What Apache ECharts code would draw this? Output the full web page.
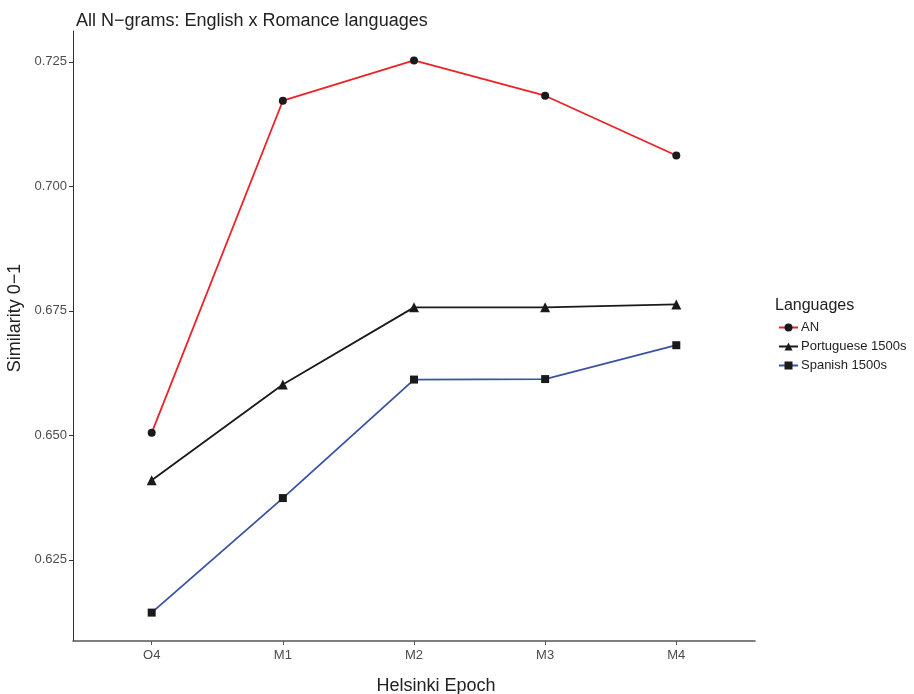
<!DOCTYPE html>
<html><head><meta charset="utf-8">
<script src="https://cdn.jsdelivr.net/npm/echarts@6/dist/echarts.min.js"></script>
<style>html,body{margin:0;padding:0;background:#fff;overflow:hidden}#c{width:914px;height:694px}</style>
</head><body><div id="c"></div>
<script>
const categories = ['O4','M1','M2','M3','M4'];
const seriesNames = ['AN','Portuguese 1500s','Spanish 1500s'];
const anValues = [0.6505, 0.7172, 0.7253, 0.7182, 0.7062];
const ptValues = [0.6410, 0.6602, 0.6757, 0.6757, 0.6763];
const esValues = [0.6144, 0.6374, 0.6612, 0.6613, 0.6681];
const yTicks = [0.625, 0.650, 0.675, 0.700, 0.725];

const font = 'Liberation Sans, Arial, sans-serif';
const chart = echarts.init(document.getElementById('c'), null, {renderer:'canvas'});
function mk(vals){ return vals.map((v,i)=>[i,v]); }
chart.setOption({
  animation:false,
  backgroundColor:'#fff',
  title:{text:'All N\u2212grams: English x Romance languages', left:71, top:7,
    textStyle:{fontFamily:font, fontSize:18, fontWeight:'normal', color:'#222'}},
  grid:{left:73, right:159, top:31, bottom:53, containLabel:false, outerBoundsMode:'none'},
  xAxis:{type:'value', min:-0.6, max:4.6,
    axisLine:{show:true, onZero:false, lineStyle:{color:'#555', width:1.5}},
    axisTick:{show:true, customValues:[0,1,2,3,4], length:4, lineStyle:{color:'#555'}},
    axisLabel:{customValues:[0,1,2,3,4], formatter:v=>categories[Math.round(v)], fontFamily:font, fontSize:13, color:'#4d4d4d', margin:8},
    splitLine:{show:false}},
  yAxis:{type:'value', min:0.6087, max:0.7312,
    axisLine:{show:true, onZero:false, lineStyle:{color:'#333', width:1}},
    axisTick:{show:true, customValues:yTicks, length:4, lineStyle:{color:'#333'}},
    axisLabel:{customValues:yTicks, formatter:v=>v.toFixed(3), fontFamily:font, fontSize:13, color:'#4d4d4d', margin:6},
    splitLine:{show:false}},
  legend:{orient:'vertical', left:773, top:316, itemWidth:19, itemHeight:10, itemGap:6,
    data:seriesNames,
    textStyle:{fontFamily:font, fontSize:13, color:'#222', padding:[0,0,0,-2]}},
  graphic:[
    {type:'text', left:775, top:298, style:{text:'Languages', font:'16px '+font, fill:'#222'}},
    {type:'text', x:436, y:686, style:{text:'Helsinki Epoch', font:'18px '+font, fill:'#222', align:'center', verticalAlign:'middle'}},
    {type:'text', x:15, y:318, rotation:Math.PI/2, style:{text:'Similarity 0\u22121', font:'18px '+font, fill:'#222', align:'center', verticalAlign:'middle'}}
  ],
  series:[
    {name:seriesNames[0], type:'line', data:mk(anValues), symbol:'circle', symbolSize:8,
     lineStyle:{color:'#ec2227', width:1.8}, itemStyle:{color:'#1a1a1a'}},
    {name:seriesNames[1], type:'line', data:mk(ptValues), symbol:'triangle', symbolSize:10,
     lineStyle:{color:'#1a1a1a', width:1.8}, itemStyle:{color:'#1a1a1a'}},
    {name:seriesNames[2], type:'line', data:mk(esValues), symbol:'rect', symbolSize:8,
     lineStyle:{color:'#3953a4', width:1.8}, itemStyle:{color:'#1a1a1a'}}
  ]
});
</script></body></html>
